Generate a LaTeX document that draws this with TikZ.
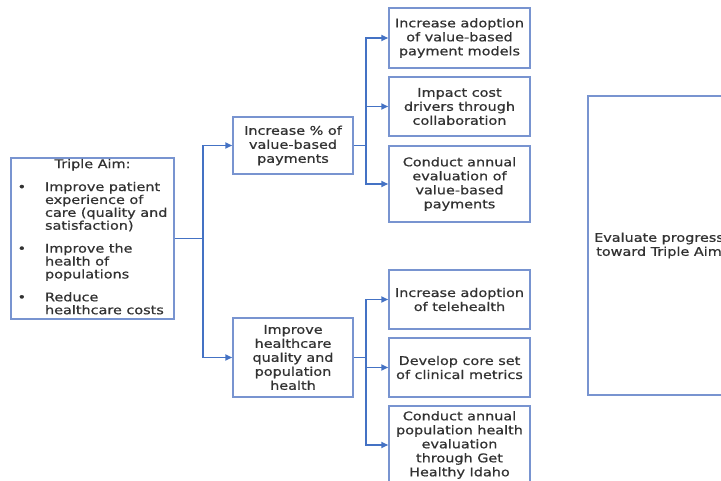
\documentclass[tikz,border=0pt]{standalone}
\usepackage{fontspec}
\setmainfont{DejaVu Sans}[FakeStretch=1.2, FakeBold=0.7]
\usetikzlibrary{arrows.meta}
\definecolor{boxblue}{RGB}{120,148,208}
\definecolor{lineblue}{RGB}{68,114,196}
\definecolor{txtgray}{RGB}{50,50,50}

\begin{document}
\begin{tikzpicture}[x=1pt, y=-1pt, >={Triangle[length=7pt,width=6pt]},
    box/.style={draw=boxblue, line width=1.5pt, text=txtgray, align=center, inner sep=0pt,
      font=\fontsize{12}{14}\selectfont},
    action/.style={box, minimum width=141pt},
    link/.style={draw=lineblue, line width=1.6pt}]
    \useasboundingbox (0,0) rectangle (721,481);
    \fill[white] (0,0) rectangle (721,481);
    \clip (0,0) rectangle (721,481);

    % Triple Aim
    \node[box, minimum width=163pt, minimum height=161pt] (aim) at (92.5,238.5) {%
      \renewcommand\arraystretch{0.9}%
      \begin{tabular}{@{}l@{\hspace{19pt}}l@{}}
        \multicolumn{2}{c}{Triple Aim:}\\[10pt]
        \textbullet & Improve patient\\
                    & experience of\\
                    & care (quality and\\
                    & satisfaction)\\[10pt]
        \textbullet & Improve the\\
                    & health of\\
                    & populations\\[10pt]
        \textbullet & Reduce\\
                    & healthcare costs
      \end{tabular}};

    % Goals
    \node[box, minimum width=120pt, minimum height=57pt] (pay) at (293,145.5) {Increase \% of\\value-based\\payments};
    \node[box, minimum width=120pt, minimum height=79pt] (qual) at (293,357.5) {Improve\\healthcare\\quality and\\population\\health};

    % Actions
    \node[action, minimum height=60pt] (a1) at (459.5,38) {Increase adoption\\of value-based\\payment models};
    \node[action, minimum height=59pt] (a2) at (459.5,106.5) {Impact cost\\drivers through\\collaboration};
    \node[action, minimum height=76pt] (a3) at (459.5,184) {Conduct annual\\evaluation of\\value-based\\payments};
    \node[action, minimum height=59pt] (a4) at (459.5,299.5) {Increase adoption\\of telehealth};
    \node[action, minimum height=59pt] (a5) at (459.5,367.5) {Develop core set\\of clinical metrics};
    \node[action, minimum height=78pt] (a6) at (459.5,445) {Conduct annual\\population health\\evaluation\\through Get\\Healthy Idaho};

    % Evaluation
    \node[box, minimum width=142pt, minimum height=299pt] (eval) at (659,245.5) {Evaluate progress\\toward Triple Aim};

    % Connectors
    \coordinate (j1) at (203,238.5);
    \draw[link] (aim.east) -- (j1);
    \draw[link,->] (j1) |- (pay.west);
    \draw[link,->] (j1) |- (qual.west);

    \coordinate (j2) at (366,145.5);
    \draw[link] (pay.east) -- (j2);
    \foreach \n in {a1,a2,a3}
      \draw[link,->] (j2) |- (\n.west);

    \coordinate (j3) at (366,357.5);
    \draw[link] (qual.east) -- (j3);
    \foreach \n in {a4,a5,a6}
      \draw[link,->] (j3) |- (\n.west);
  \end{tikzpicture}
\end{document}
